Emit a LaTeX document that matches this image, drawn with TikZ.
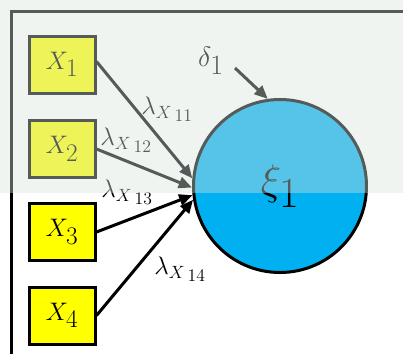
\documentclass[tikz,border=0pt]{standalone}
\usepackage{fix-cm}
\usetikzlibrary{arrows.meta}
\definecolor{boxyellow}{RGB}{255,255,0}
\definecolor{latentblue}{RGB}{0,176,240}
\definecolor{washcolor}{RGB}{214,228,220}
\begin{document}
\begin{tikzpicture}[
    x=0.75pt, y=-0.75pt,
    line width=2.25pt,
    every node/.style={font=\fontsize{19}{22}\selectfont},
    indicator/.style={draw=black, fill=boxyellow, minimum width=49.5pt, minimum height=42.75pt, inner sep=0pt},
    latent/.style={circle, draw=black, fill=latentblue, minimum size=129.75pt, inner sep=0pt},
    load/.style={-{Triangle[length=10pt,width=8.5pt]}, draw=black},
    lbl/.style={font=\fontsize{19}{22}\selectfont, inner sep=0pt}
]
    \useasboundingbox (0,0) rectangle (403,354);

    % --- Frame ---
    \draw (11.5,354) -- (11.5,11.5) -- (403,11.5);

    % --- Indicators ---
    \node[indicator] (X1) at (62,64.5) {$X_{\textstyle 1}$};
    \node[indicator] (X2) at (62,149) {$X_{\textstyle 2}$};
    \node[indicator] (X3) at (62,232) {$X_{\textstyle 3}$};
    \node[indicator] (X4) at (62,315.5) {$X_{\textstyle 4}$};

    % --- Latent variable ---
    \node[latent, font=\fontsize{32}{36}\selectfont] (xi) at (280,186) {\raisebox{-4pt}{$\xi_{\textstyle 1}$}};

    % --- Loadings ---
    \draw[load] (X1.east) ++(0,-3) -- (xi.175);
    \draw[load] (X2.east) -- (xi.181);
    \draw[load] (X3.east) -- (xi.186);
    \draw[load] (X4.east) -- (xi.189);

    % Loading labels
    \node[lbl] (l11) at (167,109) {$\lambda_{X\,\lower2.5pt\hbox{$\scriptstyle 11$}}$};
    \node[lbl] (l12) at (126,140) {$\lambda_{X\,\lower2.5pt\hbox{$\scriptstyle 12$}}$};
    \node[lbl] (l13) at (127,192) {$\lambda_{X\,\lower2.5pt\hbox{$\scriptstyle 13$}}$};
    \node[lbl] (l14) at (180,269) {$\lambda_{X\,\lower2.5pt\hbox{$\scriptstyle 14$}}$};

    % --- Error term ---
    \node[lbl, font=\fontsize{21}{24}\selectfont] (delta) at (211,61) {$\delta_{\textstyle 1}$};
    \coordinate (dstart) at (235,68);
    \draw[load] (dstart) -- (xi.98);

    % Washed-out upper band
    \fill[washcolor, fill opacity=0.4] (0,0) rectangle (403,193);

\end{tikzpicture}
\end{document}
